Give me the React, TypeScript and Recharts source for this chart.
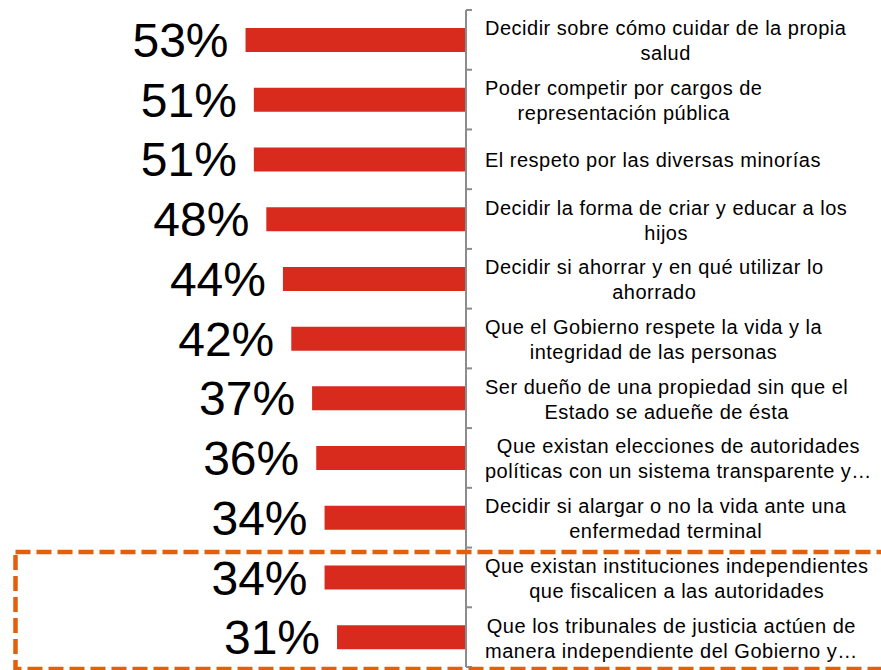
import React from 'react';
import { BarChart, Bar, XAxis, YAxis, LabelList } from 'recharts';

const labels = [
    'Decidir sobre cómo cuidar de la propia\nsalud',
    'Poder competir por cargos de\nrepresentación pública',
    'El respeto por las diversas minorías',
    'Decidir la forma de criar y educar a los\nhijos',
    'Decidir si ahorrar y en qué utilizar lo\nahorrado',
    'Que el Gobierno respete la vida y la\nintegridad de las personas',
    'Ser dueño de una propiedad sin que el\nEstado se adueñe de ésta',
    'Que existan elecciones de autoridades\npolíticas con un sistema transparente y…',
    'Decidir si alargar o no la vida ante una\nenfermedad terminal',
    'Que existan instituciones independientes\nque fiscalicen a las autoridades',
    'Que los tribunales de justicia actúen de\nmanera independiente del Gobierno y…',
];

const values = [53, 51, 51, 48, 44, 42, 37, 36, 34, 34, 31];

const data = labels.map((label, i) => ({ label, value: values[i] }));

const W = 881;
const H = 670;
const TOP = 10;
const BOTTOM = 3;
const BAND = (H - TOP - BOTTOM) / labels.length;
const FONT = '"Liberation Sans", Arial, sans-serif';

function LabelTick(props: any) {
    const { x, y, payload, index } = props;
    const top = y - BAND / 2;
    return (
        <g>
            <line x1={x} y1={top} x2={x + 6} y2={top} stroke="#8c8c8c" strokeWidth={2} />
            {index === labels.length - 1 && (
                <line x1={x} y1={top + BAND} x2={x + 6} y2={top + BAND} stroke="#8c8c8c" strokeWidth={2} />
            )}
            <foreignObject x={x + 19} y={top} width={400} height={BAND}>
                <div style={{ height: BAND, display: 'flex', alignItems: 'center', paddingTop: 3, boxSizing: 'border-box' }}>
                    <div style={{
                        display: 'inline-block', textAlign: 'center', whiteSpace: 'pre',
                        fontFamily: FONT, fontSize: 20, lineHeight: '25px', letterSpacing: 0.5, color: '#000',
                    }}>
                        {payload.value}
                    </div>
                </div>
            </foreignObject>
        </g>
    );
}

function ValueLabel(props: any) {
    const { x, y, width, height, value } = props;
    const left = Math.min(x, x + width);
    return (
        <text x={left - 17} y={y + height / 2 + 17} textAnchor="end"
            fontFamily={FONT} fontSize={48} fill="#000">
            {value}%
        </text>
    );
}

export default function App() {
    return (
        <div style={{ position: 'absolute', left: 0, top: 0, width: W, height: H, background: '#fff' }}>
            <BarChart width={W} height={H} data={data} layout="vertical"
                margin={{ top: TOP, right: 0, bottom: BOTTOM, left: 50 }}>
                <XAxis type="number" domain={[0, 100]} reversed hide />
                <YAxis
                    type="category"
                    dataKey="label"
                    orientation="right"
                    width={415}
                    interval={0}
                    axisLine={{ stroke: '#8c8c8c', strokeWidth: 2 }}
                    tickLine={false}
                    tickSize={0}
                    tickMargin={0}
                    tick={<LabelTick />}
                />
                <Bar dataKey="value" fill="#D92A1E" barSize={24} isAnimationActive={false}>
                    <LabelList dataKey="value" content={<ValueLabel />} />
                </Bar>
            </BarChart>
            <svg width={W} height={H} style={{ position: 'absolute', left: 0, top: 0, pointerEvents: 'none' }}>
                <rect x={15.5} y={552} width={900} height={117} fill="none"
                    stroke="#E35F0A" strokeWidth={4.5} strokeDasharray="15 6" />
            </svg>
        </div>
    );
}
